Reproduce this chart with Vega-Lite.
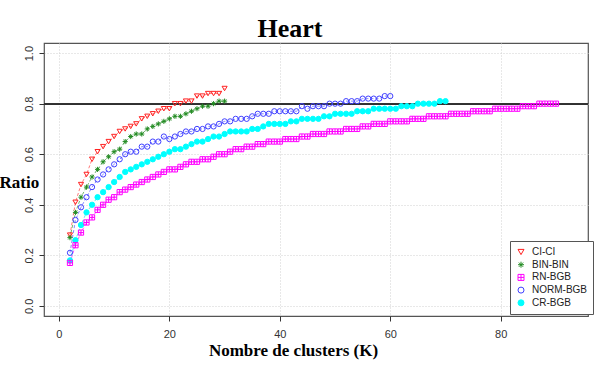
{
  "$schema": "https://vega.github.io/schema/vega-lite/v6.json",
  "autosize": {"type": "none"},
  "padding": {"left": 44, "top": 43, "right": 15, "bottom": 49},
  "width": 544,
  "height": 273,
  "background": "white",
  "title": {"text": "Heart", "font": "Liberation Serif", "fontSize": 26, "fontWeight": "bold", "color": "#000", "anchor": "middle", "dx": -26, "dy": 28, "baseline": "alphabetic", "offset": 8, "frame": "group"},
  "config": {
    "view": {"stroke": "#555", "strokeWidth": 1.2},
    "axis": {"labelFont": "Liberation Sans", "labelFontSize": 11, "labelColor": "#333", "tickColor": "#333", "tickSize": 5, "domain": false, "grid": true, "gridColor": "#d0d0d0", "gridDash": [1, 2], "gridWidth": 1, "titleFont": "Liberation Serif", "titleFontWeight": "bold", "titleFontSize": 17, "titleColor": "#000"}
  },
  "data": {"values": [
    {"s":"CI-CI","k":2,"r":0.28},{"s":"CI-CI","k":3,"r":0.41},{"s":"CI-CI","k":4,"r":0.48},{"s":"CI-CI","k":5,"r":0.52},{"s":"CI-CI","k":6,"r":0.58},{"s":"CI-CI","k":7,"r":0.61},{"s":"CI-CI","k":8,"r":0.63},{"s":"CI-CI","k":9,"r":0.65},{"s":"CI-CI","k":10,"r":0.67},{"s":"CI-CI","k":11,"r":0.69},{"s":"CI-CI","k":12,"r":0.70},{"s":"CI-CI","k":13,"r":0.71},{"s":"CI-CI","k":14,"r":0.72},{"s":"CI-CI","k":15,"r":0.74},{"s":"CI-CI","k":16,"r":0.75},{"s":"CI-CI","k":17,"r":0.76},{"s":"CI-CI","k":18,"r":0.77},{"s":"CI-CI","k":19,"r":0.78},{"s":"CI-CI","k":20,"r":0.78},{"s":"CI-CI","k":21,"r":0.80},{"s":"CI-CI","k":22,"r":0.80},{"s":"CI-CI","k":23,"r":0.81},{"s":"CI-CI","k":24,"r":0.81},{"s":"CI-CI","k":25,"r":0.83},{"s":"CI-CI","k":26,"r":0.83},{"s":"CI-CI","k":27,"r":0.84},{"s":"CI-CI","k":28,"r":0.84},{"s":"CI-CI","k":29,"r":0.84},{"s":"CI-CI","k":30,"r":0.86},
    {"s":"BIN-BIN","k":2,"r":0.27},{"s":"BIN-BIN","k":3,"r":0.37},{"s":"BIN-BIN","k":4,"r":0.43},{"s":"BIN-BIN","k":5,"r":0.47},{"s":"BIN-BIN","k":6,"r":0.51},{"s":"BIN-BIN","k":7,"r":0.54},{"s":"BIN-BIN","k":8,"r":0.57},{"s":"BIN-BIN","k":9,"r":0.59},{"s":"BIN-BIN","k":10,"r":0.61},{"s":"BIN-BIN","k":11,"r":0.62},{"s":"BIN-BIN","k":12,"r":0.65},{"s":"BIN-BIN","k":13,"r":0.67},{"s":"BIN-BIN","k":14,"r":0.68},{"s":"BIN-BIN","k":15,"r":0.68},{"s":"BIN-BIN","k":16,"r":0.70},{"s":"BIN-BIN","k":17,"r":0.71},{"s":"BIN-BIN","k":18,"r":0.72},{"s":"BIN-BIN","k":19,"r":0.73},{"s":"BIN-BIN","k":20,"r":0.74},{"s":"BIN-BIN","k":21,"r":0.75},{"s":"BIN-BIN","k":22,"r":0.75},{"s":"BIN-BIN","k":23,"r":0.76},{"s":"BIN-BIN","k":24,"r":0.77},{"s":"BIN-BIN","k":25,"r":0.78},{"s":"BIN-BIN","k":26,"r":0.79},{"s":"BIN-BIN","k":27,"r":0.79},{"s":"BIN-BIN","k":28,"r":0.80},{"s":"BIN-BIN","k":29,"r":0.81},{"s":"BIN-BIN","k":30,"r":0.81},
    {"s":"NORM-BGB","k":2,"r":0.21},{"s":"NORM-BGB","k":3,"r":0.34},{"s":"NORM-BGB","k":4,"r":0.39},{"s":"NORM-BGB","k":5,"r":0.43},{"s":"NORM-BGB","k":6,"r":0.47},{"s":"NORM-BGB","k":7,"r":0.50},{"s":"NORM-BGB","k":8,"r":0.52},{"s":"NORM-BGB","k":9,"r":0.54},{"s":"NORM-BGB","k":10,"r":0.56},{"s":"NORM-BGB","k":11,"r":0.58},{"s":"NORM-BGB","k":12,"r":0.60},{"s":"NORM-BGB","k":13,"r":0.61},{"s":"NORM-BGB","k":14,"r":0.61},{"s":"NORM-BGB","k":15,"r":0.63},{"s":"NORM-BGB","k":16,"r":0.63},{"s":"NORM-BGB","k":17,"r":0.65},{"s":"NORM-BGB","k":18,"r":0.65},{"s":"NORM-BGB","k":19,"r":0.67},{"s":"NORM-BGB","k":20,"r":0.66},{"s":"NORM-BGB","k":21,"r":0.67},{"s":"NORM-BGB","k":22,"r":0.68},{"s":"NORM-BGB","k":23,"r":0.69},{"s":"NORM-BGB","k":24,"r":0.69},{"s":"NORM-BGB","k":25,"r":0.70},{"s":"NORM-BGB","k":26,"r":0.70},{"s":"NORM-BGB","k":27,"r":0.71},{"s":"NORM-BGB","k":28,"r":0.71},{"s":"NORM-BGB","k":29,"r":0.72},{"s":"NORM-BGB","k":30,"r":0.73},{"s":"NORM-BGB","k":31,"r":0.73},{"s":"NORM-BGB","k":32,"r":0.74},{"s":"NORM-BGB","k":33,"r":0.74},{"s":"NORM-BGB","k":34,"r":0.74},{"s":"NORM-BGB","k":35,"r":0.75},{"s":"NORM-BGB","k":36,"r":0.76},{"s":"NORM-BGB","k":37,"r":0.76},{"s":"NORM-BGB","k":38,"r":0.76},{"s":"NORM-BGB","k":39,"r":0.77},{"s":"NORM-BGB","k":40,"r":0.77},{"s":"NORM-BGB","k":41,"r":0.77},{"s":"NORM-BGB","k":42,"r":0.77},{"s":"NORM-BGB","k":43,"r":0.77},{"s":"NORM-BGB","k":44,"r":0.79},{"s":"NORM-BGB","k":45,"r":0.78},{"s":"NORM-BGB","k":46,"r":0.79},{"s":"NORM-BGB","k":47,"r":0.79},{"s":"NORM-BGB","k":48,"r":0.79},{"s":"NORM-BGB","k":49,"r":0.80},{"s":"NORM-BGB","k":50,"r":0.80},{"s":"NORM-BGB","k":51,"r":0.80},{"s":"NORM-BGB","k":52,"r":0.81},{"s":"NORM-BGB","k":53,"r":0.81},{"s":"NORM-BGB","k":54,"r":0.81},{"s":"NORM-BGB","k":55,"r":0.82},{"s":"NORM-BGB","k":56,"r":0.82},{"s":"NORM-BGB","k":57,"r":0.82},{"s":"NORM-BGB","k":58,"r":0.82},{"s":"NORM-BGB","k":59,"r":0.83},{"s":"NORM-BGB","k":60,"r":0.83},
    {"s":"CR-BGB","k":2,"r":0.18},{"s":"CR-BGB","k":3,"r":0.26},{"s":"CR-BGB","k":4,"r":0.32},{"s":"CR-BGB","k":5,"r":0.37},{"s":"CR-BGB","k":6,"r":0.40},{"s":"CR-BGB","k":7,"r":0.43},{"s":"CR-BGB","k":8,"r":0.45},{"s":"CR-BGB","k":9,"r":0.47},{"s":"CR-BGB","k":10,"r":0.49},{"s":"CR-BGB","k":11,"r":0.51},{"s":"CR-BGB","k":12,"r":0.53},{"s":"CR-BGB","k":13,"r":0.54},{"s":"CR-BGB","k":14,"r":0.55},{"s":"CR-BGB","k":15,"r":0.56},{"s":"CR-BGB","k":16,"r":0.57},{"s":"CR-BGB","k":17,"r":0.58},{"s":"CR-BGB","k":18,"r":0.59},{"s":"CR-BGB","k":19,"r":0.60},{"s":"CR-BGB","k":20,"r":0.61},{"s":"CR-BGB","k":21,"r":0.62},{"s":"CR-BGB","k":22,"r":0.62},{"s":"CR-BGB","k":23,"r":0.63},{"s":"CR-BGB","k":24,"r":0.64},{"s":"CR-BGB","k":25,"r":0.65},{"s":"CR-BGB","k":26,"r":0.65},{"s":"CR-BGB","k":27,"r":0.66},{"s":"CR-BGB","k":28,"r":0.67},{"s":"CR-BGB","k":29,"r":0.67},{"s":"CR-BGB","k":30,"r":0.68},{"s":"CR-BGB","k":31,"r":0.69},{"s":"CR-BGB","k":32,"r":0.69},{"s":"CR-BGB","k":33,"r":0.69},{"s":"CR-BGB","k":34,"r":0.69},{"s":"CR-BGB","k":35,"r":0.70},{"s":"CR-BGB","k":36,"r":0.70},{"s":"CR-BGB","k":37,"r":0.71},{"s":"CR-BGB","k":38,"r":0.72},{"s":"CR-BGB","k":39,"r":0.72},{"s":"CR-BGB","k":40,"r":0.72},{"s":"CR-BGB","k":41,"r":0.72},{"s":"CR-BGB","k":42,"r":0.73},{"s":"CR-BGB","k":43,"r":0.73},{"s":"CR-BGB","k":44,"r":0.74},{"s":"CR-BGB","k":45,"r":0.74},{"s":"CR-BGB","k":46,"r":0.74},{"s":"CR-BGB","k":47,"r":0.74},{"s":"CR-BGB","k":48,"r":0.75},{"s":"CR-BGB","k":49,"r":0.75},{"s":"CR-BGB","k":50,"r":0.76},{"s":"CR-BGB","k":51,"r":0.76},{"s":"CR-BGB","k":52,"r":0.76},{"s":"CR-BGB","k":53,"r":0.76},{"s":"CR-BGB","k":54,"r":0.77},{"s":"CR-BGB","k":55,"r":0.77},{"s":"CR-BGB","k":56,"r":0.77},{"s":"CR-BGB","k":57,"r":0.78},{"s":"CR-BGB","k":58,"r":0.78},{"s":"CR-BGB","k":59,"r":0.78},{"s":"CR-BGB","k":60,"r":0.78},{"s":"CR-BGB","k":61,"r":0.78},{"s":"CR-BGB","k":62,"r":0.79},{"s":"CR-BGB","k":63,"r":0.79},{"s":"CR-BGB","k":64,"r":0.79},{"s":"CR-BGB","k":65,"r":0.80},{"s":"CR-BGB","k":66,"r":0.80},{"s":"CR-BGB","k":67,"r":0.80},{"s":"CR-BGB","k":68,"r":0.80},{"s":"CR-BGB","k":69,"r":0.81},{"s":"CR-BGB","k":70,"r":0.81},
    {"s":"RN-BGB","k":2,"r":0.17},{"s":"RN-BGB","k":3,"r":0.24},{"s":"RN-BGB","k":4,"r":0.29},{"s":"RN-BGB","k":5,"r":0.33},{"s":"RN-BGB","k":6,"r":0.35},{"s":"RN-BGB","k":7,"r":0.38},{"s":"RN-BGB","k":8,"r":0.40},{"s":"RN-BGB","k":9,"r":0.42},{"s":"RN-BGB","k":10,"r":0.43},{"s":"RN-BGB","k":11,"r":0.45},{"s":"RN-BGB","k":12,"r":0.46},{"s":"RN-BGB","k":13,"r":0.47},{"s":"RN-BGB","k":14,"r":0.48},{"s":"RN-BGB","k":15,"r":0.49},{"s":"RN-BGB","k":16,"r":0.50},{"s":"RN-BGB","k":17,"r":0.51},{"s":"RN-BGB","k":18,"r":0.52},{"s":"RN-BGB","k":19,"r":0.53},{"s":"RN-BGB","k":20,"r":0.54},{"s":"RN-BGB","k":21,"r":0.54},{"s":"RN-BGB","k":22,"r":0.55},{"s":"RN-BGB","k":23,"r":0.56},{"s":"RN-BGB","k":24,"r":0.57},{"s":"RN-BGB","k":25,"r":0.57},{"s":"RN-BGB","k":26,"r":0.58},{"s":"RN-BGB","k":27,"r":0.58},{"s":"RN-BGB","k":28,"r":0.59},{"s":"RN-BGB","k":29,"r":0.60},{"s":"RN-BGB","k":30,"r":0.60},{"s":"RN-BGB","k":31,"r":0.61},{"s":"RN-BGB","k":32,"r":0.62},{"s":"RN-BGB","k":33,"r":0.62},{"s":"RN-BGB","k":34,"r":0.63},{"s":"RN-BGB","k":35,"r":0.63},{"s":"RN-BGB","k":36,"r":0.64},{"s":"RN-BGB","k":37,"r":0.64},{"s":"RN-BGB","k":38,"r":0.65},{"s":"RN-BGB","k":39,"r":0.65},{"s":"RN-BGB","k":40,"r":0.65},{"s":"RN-BGB","k":41,"r":0.66},{"s":"RN-BGB","k":42,"r":0.66},{"s":"RN-BGB","k":43,"r":0.66},{"s":"RN-BGB","k":44,"r":0.67},{"s":"RN-BGB","k":45,"r":0.67},{"s":"RN-BGB","k":46,"r":0.68},{"s":"RN-BGB","k":47,"r":0.68},{"s":"RN-BGB","k":48,"r":0.68},{"s":"RN-BGB","k":49,"r":0.69},{"s":"RN-BGB","k":50,"r":0.69},{"s":"RN-BGB","k":51,"r":0.69},{"s":"RN-BGB","k":52,"r":0.70},{"s":"RN-BGB","k":53,"r":0.70},{"s":"RN-BGB","k":54,"r":0.70},{"s":"RN-BGB","k":55,"r":0.71},{"s":"RN-BGB","k":56,"r":0.71},{"s":"RN-BGB","k":57,"r":0.72},{"s":"RN-BGB","k":58,"r":0.72},{"s":"RN-BGB","k":59,"r":0.72},{"s":"RN-BGB","k":60,"r":0.73},{"s":"RN-BGB","k":61,"r":0.73},{"s":"RN-BGB","k":62,"r":0.73},{"s":"RN-BGB","k":63,"r":0.73},{"s":"RN-BGB","k":64,"r":0.74},{"s":"RN-BGB","k":65,"r":0.74},{"s":"RN-BGB","k":66,"r":0.74},{"s":"RN-BGB","k":67,"r":0.75},{"s":"RN-BGB","k":68,"r":0.75},{"s":"RN-BGB","k":69,"r":0.75},{"s":"RN-BGB","k":70,"r":0.75},{"s":"RN-BGB","k":71,"r":0.76},{"s":"RN-BGB","k":72,"r":0.76},{"s":"RN-BGB","k":73,"r":0.76},{"s":"RN-BGB","k":74,"r":0.76},{"s":"RN-BGB","k":75,"r":0.77},{"s":"RN-BGB","k":76,"r":0.77},{"s":"RN-BGB","k":77,"r":0.77},{"s":"RN-BGB","k":78,"r":0.77},{"s":"RN-BGB","k":79,"r":0.78},{"s":"RN-BGB","k":80,"r":0.78},{"s":"RN-BGB","k":81,"r":0.78},{"s":"RN-BGB","k":82,"r":0.78},{"s":"RN-BGB","k":83,"r":0.78},{"s":"RN-BGB","k":84,"r":0.79},{"s":"RN-BGB","k":85,"r":0.79},{"s":"RN-BGB","k":86,"r":0.79},{"s":"RN-BGB","k":87,"r":0.80},{"s":"RN-BGB","k":88,"r":0.80},{"s":"RN-BGB","k":89,"r":0.80},{"s":"RN-BGB","k":90,"r":0.80}
  ]},
  "layer": [
    {
      "mark": {"type": "line", "strokeWidth": 0.8, "strokeDash": [3, 2], "opacity": 0.8},
      "encoding": {
        "x": {"field": "k", "type": "quantitative", "scale": {"domain": [-2.7, 95.8], "nice": false, "zero": false},
              "axis": {"values": [0, 20, 40, 60, 80], "format": "d", "title": "Nombre de clusters (K)", "titleX": 249, "titleY": 39, "titleAlign": "center", "titleBaseline": "alphabetic", "labelPadding": 7}},
        "y": {"field": "r", "type": "quantitative", "scale": {"domain": [-0.04, 1.04], "nice": false, "zero": false},
              "axis": {"values": [0, 0.2, 0.4, 0.6, 0.8, 1.0], "format": ".1f", "title": "Ratio", "titleAngle": 0, "titleX": -45, "titleY": 144, "titleAlign": "left", "titleBaseline": "alphabetic", "labelAngle": 270, "labelAlign": "center", "labelBaseline": "bottom", "labelPadding": 5}},
        "color": {"field": "s", "type": "nominal", "legend": null,
                  "scale": {"domain": ["CR-BGB", "NORM-BGB", "RN-BGB", "BIN-BIN", "CI-CI"], "range": ["#00E5E5", "#4040FF", "#FF00FF", "#228B22", "#FF3030"]}}
      }
    },
    {
      "mark": {"type": "rule", "color": "#333", "strokeWidth": 1.4},
      "encoding": {"y": {"datum": 0.8}}
    },
    {
      "mark": {"type": "point", "filled": false, "opacity": 1, "strokeWidth": 1},
      "encoding": {
        "x": {"field": "k", "type": "quantitative"},
        "y": {"field": "r", "type": "quantitative"},
        "stroke": {"field": "s", "type": "nominal",
                   "scale": {"domain": ["CI-CI", "BIN-BIN", "RN-BGB", "NORM-BGB", "CR-BGB"], "range": ["#FF2020", "#228B22", "#FF00FF", "#4040FF", "#00FFFF"]},
                   "legend": {"orient": "none", "legendX": 466, "legendY": 198, "title": null, "strokeColor": "#555", "fillColor": "white", "padding": 6, "rowPadding": 2.7, "labelFont": "Liberation Sans", "labelFontSize": 10, "labelColor": "#222", "symbolSize": 36, "symbolStrokeWidth": 1, "labelOffset": 6}},
        "fill": {"field": "s", "type": "nominal",
                 "scale": {"domain": ["CI-CI", "BIN-BIN", "RN-BGB", "NORM-BGB", "CR-BGB"], "range": ["transparent", "transparent", "transparent", "transparent", "#00FFFF"]}},
        "shape": {"field": "s", "type": "nominal",
                  "scale": {"domain": ["CI-CI", "BIN-BIN", "RN-BGB", "NORM-BGB", "CR-BGB"], "range": ["triangle-down", "M-1,0H1M0,-1V1M-0.7,-0.7L0.7,0.7M-0.7,0.7L0.7,-0.7", "M-1,-1H1V1H-1ZM0,-1V1M-1,0H1", "circle", "circle"]}},
        "size": {"field": "s", "type": "nominal", "legend": null,
                 "scale": {"domain": ["CR-BGB", "NORM-BGB", "RN-BGB", "BIN-BIN", "CI-CI"], "range": [28, 26, 34, 45, 80]}}
      }
    }
  ]
}
